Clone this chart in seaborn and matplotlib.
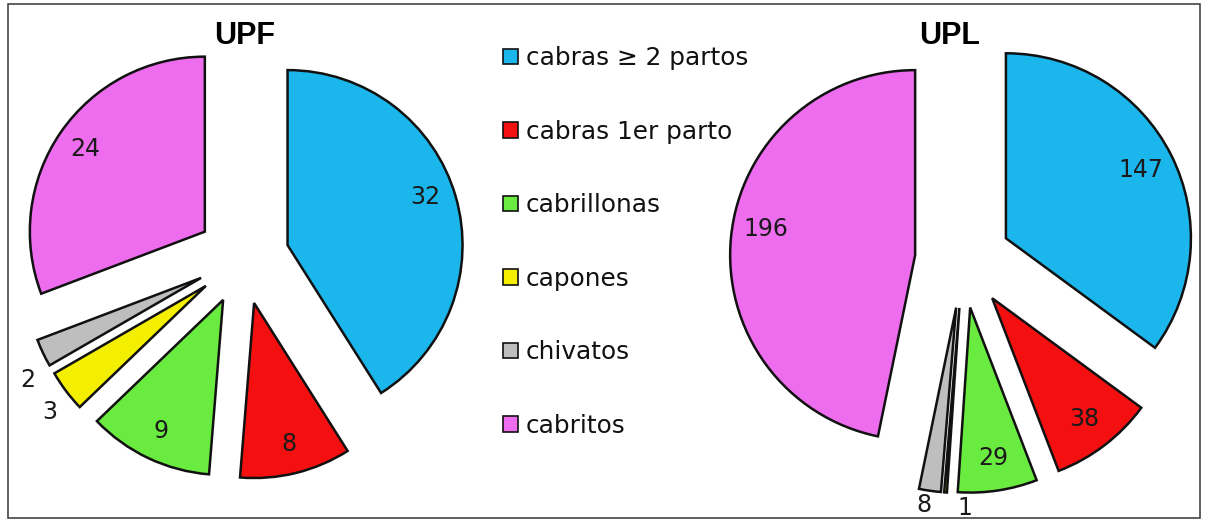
import matplotlib
matplotlib.use("Agg")
import matplotlib.pyplot as plt
import seaborn as sns
import numpy as np
from matplotlib.patches import Patch, Rectangle

sns.set_theme(style="white")
plt.rcParams['font.family'] = ['DejaVu Sans']
plt.rcParams['text.color'] = '#111111'

categories = ["cabras \u2265 2 partos", "cabras 1er parto", "cabrillonas",
              "capones", "chivatos", "cabritos"]
upf_values = [32, 8, 9, 3, 2, 24]
upl_values = [147, 38, 29, 1, 8, 196]
colors = ["#1BB6EC", "#F41010", "#6AEB40", "#F4EE00", "#BEBEBE", "#EE6CEE"]

W, H = 1206, 521
fig = plt.figure(figsize=(W / 100, H / 100), dpi=100)
fig.patch.set_facecolor("white")


def make_axes(cx, cy, r, L=1.45):
    return fig.add_axes([(cx - L * r) / W, (H - cy - L * r) / H,
                         2 * L * r / W, 2 * L * r / H])


def draw_pie(ax, values, explode, inside_d, outside_d, small_thresh,
             angle_shift=None, L=1.45):
    wedges, _ = ax.pie(values, colors=colors, startangle=90, counterclock=False,
                       explode=[explode] * len(values),
                       wedgeprops=dict(edgecolor="#111111", linewidth=1.8))
    ax.set_aspect("auto")
    ax.set_xlim(-L, L)
    ax.set_ylim(-L, L)
    ax.axis("off")
    total = sum(values)
    for i, (w, v) in enumerate(zip(wedges, values)):
        th = np.deg2rad((w.theta1 + w.theta2) / 2)
        if angle_shift and i in angle_shift:
            th += np.deg2rad(angle_shift[i])
        d = inside_d if v / total > small_thresh else outside_d
        x0, y0 = w.center
        ax.text(x0 + d * np.cos(th), y0 + d * np.sin(th), str(v),
                ha="center", va="center", fontsize=17, color="#1a1a1a")
    return wedges


ax1 = make_axes(243, 258, 175)
draw_pie(ax1, upf_values, 0.265, 0.83, 1.15, 0.06,
         angle_shift={4: 5, 3: 2, 0: 3})

ax2 = make_axes(963, 260, 185)
draw_pie(ax2, upl_values, 0.26, 0.82, 1.08, 0.05,
         angle_shift={3: 6, 4: -1, 5: -4})

fig.text(245 / W, 1 - 36 / H, "UPF", ha="center", va="center",
         fontsize=22, fontweight="bold", family="Liberation Sans", color="black")
fig.text(950 / W, 1 - 36 / H, "UPL", ha="center", va="center",
         fontsize=22, fontweight="bold", family="Liberation Sans", color="black")

handles = [Patch(facecolor=c, edgecolor="#111111", linewidth=1.2) for c in colors]
fig.legend(handles, categories, loc="upper left",
           bbox_to_anchor=(491 / W, 1 - 34 / H), frameon=False,
           fontsize=17.8, handlelength=0.6, handleheight=0.6,
           handletextpad=0.3, labelspacing=2.0, borderpad=0,
           labelcolor="#111111")

fig.patches.append(Rectangle((8 / W, 3 / H), (1200 - 8) / W, (517 - 3) / H,
                             transform=fig.transFigure, fill=False,
                             edgecolor="#444444", linewidth=1.2))

fig.savefig("out.png", dpi=100, facecolor="white")
